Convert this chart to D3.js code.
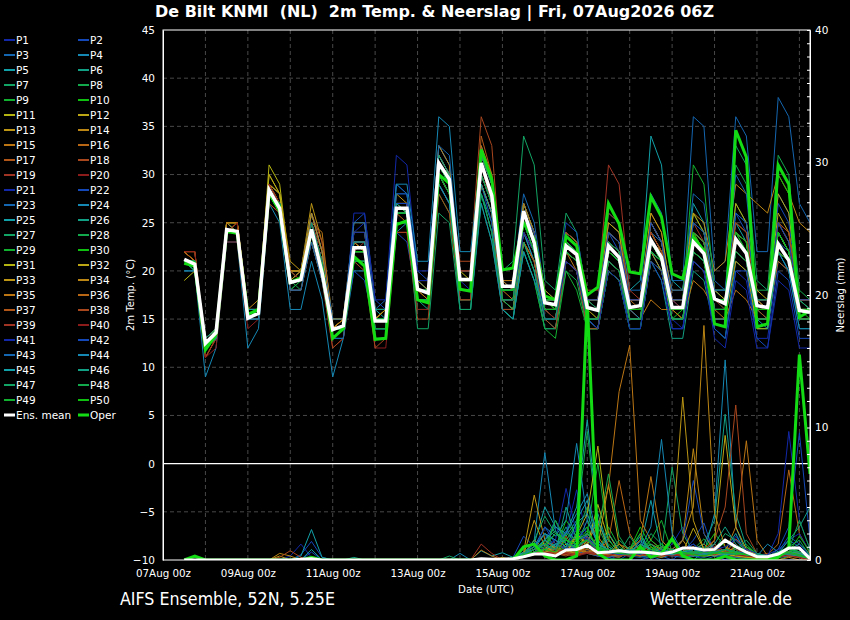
<!DOCTYPE html>
<html>
<head>
<meta charset="utf-8">
<script src="https://cdn.jsdelivr.net/npm/d3@7"></script>
<style>
  body { margin: 0; background: #000; }
  svg { display: block; }
  text { font-family: "DejaVu Sans", sans-serif; fill: #fff; }
  .cond { font-family: "DejaVu Sans Condensed", "DejaVu Sans", sans-serif; font-stretch: condensed; }
</style>
</head>
<body>
<div id="chart"></div>
<script>
// run 07Aug2026 06Z, first output 07Aug 12z, 6-hourly
const runStart = Date.UTC(2026, 7, 7, 0)
const leadHours = [12,18,24,30,36,42,48,54,60,66,72,78,84,90,96,102,108,114,120,126,132,138,144,150,156,162,168,174,180,186,192,198,204,210,216,222,228,234,240,246,252,258,264,270,276,282,288,294,300,306,312,318,324,330,336,342,348,354,360,366]

// ensemble mean and operational run, 2m temp (C)
const meanTemp = [21.2,20.7,12.5,13.6,24.3,24.1,15.1,15.6,28.4,26.5,18.8,19.1,24.3,19.8,13.9,14.3,22.4,22.4,14.8,14.8,26.5,26.5,18.1,17.7,31.2,29.5,19.1,19.1,31.2,27.8,18.4,18.4,26.2,22.9,16.7,16.5,22.6,21.7,16.2,15.9,22.6,21.4,16.2,16.4,23.2,21.4,16.2,16.2,23.0,21.8,17.1,16.6,23.3,21.8,16.4,16.2,22.8,21.1,15.9,15.7]
const operTemp = [20.8,20.5,11.8,13.4,24.1,23.9,15.5,16.0,28.1,26.2,18.8,19.3,24.1,20.1,13.0,14.0,21.5,20.5,12.9,13.0,24.8,25.2,17.0,16.7,30.0,29.1,18.1,17.9,32.6,29.5,20.1,20.3,25.0,23.3,17.4,17.0,23.6,22.6,17.5,18.3,27.0,24.9,19.9,19.7,27.7,25.6,19.7,19.2,23.5,22.1,14.5,14.2,34.6,31.8,14.2,14.5,31.0,29.0,15.2,15.9]

// precipitation (mm / 6h)
const meanPrecip = [0,0,0,0,0,0,0,0,0,0,0,0.05,0.1,0,0,0,0,0,0,0,0,0,0,0,0,0,0,0,0.1,0.05,0.05,0.1,0.25,0.45,0.45,0.3,0.75,0.8,1.1,0.55,0.6,0.7,0.6,0.6,0.55,0.45,0.6,0.9,0.9,0.75,0.8,1.5,1.0,0.6,0.25,0.25,0.45,0.9,0.9,0.1]
const operPrecip = [0,0.3,0,0,0,0,0,0,0,0,0,0,0.2,0,0,0,0,0,0,0,0,0,0,0,0,0,0,0,0,0,0,0,1.0,1.2,0.3,0,0,0.3,19.6,0.5,0,0,0,1.0,0.2,0.5,1.6,0.3,0,0,0,0.3,0,0,0,0,0.2,1.0,15.5,6.5]

// members P1..P50, 2m temp
const tempMembers = [
  [21,20,12,13,24,24,15,15,28,27,19,19,25,21,14,14,24,25,16,16,28,28,19,18,32,30,19,18,30,27,17,17,24,22,16,15,21,20,15,14,20,19,15,15,22,20,15,14,21,20,14,13,20,19,13,13,21,20,14,14],
  [21,21,13,14,25,24,16,16,29,27,20,20,26,22,15,15,25,26,17,16,29,28,20,19,33,31,20,20,32,29,19,18,27,24,17,17,24,23,17,16,24,22,17,17,25,23,17,16,24,23,16,16,26,24,15,15,27,25,17,16],
  [21,20,12,13,24,24,15,16,29,28,19,20,26,22,14,15,24,24,16,17,29,28,19,19,33,31,20,20,33,29,19,19,28,25,18,17,24,23,17,17,26,25,18,18,28,26,19,19,36,35,20,21,36,34,22,22,38,36,27,25],
  [20,20,9,12,23,23,12,14,27,25,16,16,21,17,9,13,20,20,13,13,24,25,16,16,29,27,17,17,28,24,16,16,23,20,14,14,21,20,14,14,21,20,15,15,22,20,15,15,22,21,16,16,22,21,16,15,22,20,15,15],
  [21,21,12,14,24,24,16,16,28,27,20,19,24,20,14,14,23,22,16,15,27,26,19,18,32,30,19,19,31,28,18,18,27,24,17,17,24,23,17,16,25,24,18,19,34,31,19,18,27,25,18,17,25,23,17,16,24,22,16,16],
  [21,21,13,14,24,24,15,16,28,26,18,19,23,19,13,14,21,21,14,14,25,25,17,16,29,27,17,17,28,25,16,15,23,20,15,14,21,20,14,14,20,19,14,14,21,19,13,13,20,19,14,13,21,20,14,14,22,21,15,15],
  [21,21,12,14,25,24,15,16,28,27,19,19,24,20,14,15,22,22,15,15,26,26,18,18,31,29,19,19,32,29,20,21,34,31,19,18,26,24,17,17,24,23,16,16,24,22,16,16,23,22,16,16,22,21,15,15,22,21,15,15],
  [21,20,12,13,24,24,15,15,28,27,19,18,24,20,14,14,22,22,15,15,27,26,18,18,31,29,18,18,30,27,18,18,25,23,16,16,22,21,16,16,22,21,16,16,24,22,17,17,26,24,17,17,27,25,18,18,32,30,18,17],
  [21,21,12,13,24,24,15,15,28,26,18,19,23,19,13,14,21,21,14,14,25,25,16,16,28,26,17,17,27,23,16,15,22,19,14,13,20,18,14,14,20,19,15,15,23,21,16,16,24,23,17,16,24,23,16,16,24,22,16,16],
  [21,21,12,13,24,24,15,16,28,26,19,19,24,20,13,14,22,22,15,15,26,26,18,18,31,30,19,19,31,28,18,18,26,23,17,16,22,21,16,15,20,19,15,15,21,20,15,16,22,21,17,17,24,22,16,16,22,21,16,15],
  [19,20,11,13,25,25,15,16,31,29,20,20,25,21,15,15,24,24,16,16,27,27,19,19,32,30,20,19,29,26,17,16,23,21,15,15,21,20,15,14,21,20,15,15,22,21,16,15,22,21,15,15,22,21,14,14,22,21,15,15],
  [22,21,13,14,25,25,16,16,29,28,20,19,25,21,15,15,23,23,16,16,27,27,19,19,31,29,20,20,31,28,19,19,27,24,18,17,24,23,17,17,23,22,17,17,25,23,17,17,24,23,18,18,25,24,17,17,26,24,17,16],
  [22,21,12,13,24,24,16,16,29,28,21,20,27,23,15,15,25,25,16,16,28,27,19,18,30,29,19,19,31,27,17,17,24,22,16,16,22,21,16,16,22,21,16,16,22,20,15,15,21,20,15,15,21,20,15,15,22,21,15,15],
  [22,21,13,14,25,25,16,17,30,28,20,20,25,21,15,15,23,23,15,16,27,27,19,19,33,31,20,20,31,28,19,18,26,23,17,17,23,22,16,16,23,22,17,17,25,23,18,18,26,25,20,21,29,28,27,26,30,28,25,24],
  [22,22,12,13,24,24,15,16,28,27,19,19,25,24,14,14,23,23,15,15,26,26,18,18,31,29,19,19,30,27,18,17,25,23,17,16,22,20,16,15,20,19,16,15,17,16,16,15,19,18,16,15,18,17,15,15,21,20,15,15],
  [22,21,12,13,24,25,15,16,29,27,19,19,26,22,14,15,23,22,15,15,26,26,18,18,31,29,19,19,32,29,18,18,27,24,17,17,24,23,17,16,23,22,17,16,23,22,16,16,24,22,17,17,24,23,17,16,25,23,16,16],
  [21,21,12,13,24,24,15,15,28,27,19,19,26,22,14,14,22,22,15,15,26,26,18,17,30,28,19,19,34,30,18,18,25,23,16,16,22,21,16,16,24,23,16,16,23,21,16,16,23,22,17,17,23,22,16,16,24,22,16,16],
  [22,21,11,13,24,24,15,15,28,27,19,20,26,23,14,15,23,22,15,15,27,27,19,19,32,30,21,21,36,33,19,19,26,23,16,16,23,22,16,16,25,24,16,16,23,21,16,16,23,22,17,17,23,22,16,16,24,22,16,16],
  [22,22,11,13,24,24,15,16,28,27,19,19,25,22,14,15,23,23,15,16,27,27,18,18,31,29,19,19,31,28,18,18,26,23,17,17,24,23,18,18,31,29,18,17,26,24,17,17,25,23,17,17,24,23,16,16,24,22,16,16],
  [21,21,11,12,23,23,14,15,27,26,18,18,23,19,12,13,21,21,12,12,24,24,16,16,29,27,17,17,29,26,16,16,24,21,15,15,22,21,15,15,22,21,16,15,24,22,16,16,24,23,17,16,23,22,16,16,23,21,16,16],
  [21,21,13,14,24,24,16,16,28,27,19,19,25,21,14,14,26,26,17,17,32,31,20,20,32,30,20,20,31,28,19,19,26,23,17,17,23,22,16,16,22,21,16,16,23,21,15,15,23,22,16,16,22,21,15,15,22,20,15,15],
  [21,21,12,14,24,24,15,16,28,26,19,19,24,20,14,14,20,19,14,14,24,23,17,17,29,27,18,18,29,25,17,17,24,21,15,15,21,20,15,14,21,20,14,14,21,19,14,14,21,20,14,13,20,20,13,12,20,19,13,13],
  [21,21,12,14,24,24,15,16,28,27,20,20,26,22,15,15,25,25,16,16,28,28,19,19,33,32,20,20,31,28,18,18,26,24,17,17,24,23,16,16,23,22,17,17,24,23,18,18,28,27,19,18,30,28,17,17,28,26,17,17],
  [21,21,12,13,24,24,15,16,28,27,19,19,24,20,14,14,23,23,16,16,29,29,21,21,36,35,22,22,32,29,17,17,24,22,16,16,22,21,15,15,22,21,16,15,22,21,16,16,22,21,16,16,22,21,15,15,23,21,15,15],
  [21,21,12,14,24,24,15,15,28,26,18,18,23,19,13,13,21,21,14,14,25,25,17,17,30,28,18,18,29,26,16,16,24,21,15,15,22,21,15,14,22,21,15,15,23,21,15,15,24,23,16,16,24,23,15,15,23,21,15,15],
  [21,21,13,14,25,24,15,16,28,27,19,19,24,20,14,14,22,22,15,15,27,26,18,18,32,30,19,19,32,29,19,19,27,24,17,17,23,22,17,17,24,23,17,17,25,23,17,17,25,24,18,18,26,25,17,17,25,23,17,16],
  [21,20,12,13,24,24,15,15,28,27,19,19,24,20,14,14,22,22,15,15,26,26,18,18,31,29,19,19,31,28,18,18,26,24,17,17,24,23,17,16,23,22,16,16,23,21,16,16,23,22,17,17,33,31,19,18,24,22,17,16],
  [21,21,12,14,24,24,15,16,28,26,19,19,24,20,13,14,22,22,15,15,26,26,17,17,30,28,16,16,28,24,16,15,22,19,14,14,20,19,14,14,20,19,14,14,21,20,15,15,22,21,16,16,23,22,16,16,24,22,16,16],
  [21,21,13,14,24,24,15,16,28,27,19,19,24,20,14,14,23,23,15,15,27,26,18,18,31,30,19,19,31,28,18,18,26,23,17,16,23,22,16,16,23,22,16,16,24,22,17,17,31,29,18,18,24,22,16,16,23,21,16,16],
  [21,21,12,13,24,24,15,16,28,27,19,19,24,20,14,14,22,22,15,15,26,26,18,18,31,29,19,19,31,28,18,18,26,23,17,16,22,21,16,16,22,21,16,16,22,21,16,16,22,21,16,16,22,21,16,16,30,28,16,16],
  [21,21,12,14,25,25,16,16,30,28,20,20,25,21,14,15,23,23,16,16,27,26,18,18,30,28,18,18,29,26,17,16,23,21,16,15,22,21,15,15,22,21,15,15,21,20,15,15,22,21,16,16,23,22,15,15,22,21,15,15],
  [21,21,12,14,24,24,15,16,28,27,19,20,25,21,14,15,23,23,15,16,26,26,18,18,30,29,19,19,30,27,18,18,25,23,17,17,24,23,17,17,25,24,17,17,26,24,17,17,26,24,18,17,27,25,18,17,28,26,17,17],
  [22,21,12,13,24,25,16,16,29,27,20,20,26,22,14,15,23,22,15,16,27,27,18,18,31,29,19,19,31,28,18,18,26,23,16,16,22,21,15,15,22,21,16,16,23,22,16,16,24,23,17,17,24,23,16,16,24,22,16,16],
  [21,21,13,14,25,24,15,16,28,27,19,19,25,21,14,14,22,22,15,15,26,26,18,17,30,28,18,18,30,27,17,17,25,22,16,16,23,22,16,16,23,22,16,16,24,22,16,16,23,22,16,16,23,22,15,15,23,21,15,15],
  [22,22,12,14,25,25,16,16,29,27,20,20,25,21,14,15,23,22,15,15,26,26,18,18,32,30,20,20,33,30,19,19,27,24,17,17,23,22,16,16,23,22,16,16,24,22,16,16,23,22,17,17,23,22,17,16,24,22,16,16],
  [21,21,12,13,24,24,15,15,28,27,19,19,24,20,14,14,22,22,15,15,26,25,17,17,30,28,18,18,31,28,18,18,26,24,17,17,23,22,16,16,22,21,16,16,22,21,16,16,23,22,17,17,24,23,17,17,25,24,17,17],
  [22,21,12,13,24,24,15,16,28,27,19,19,25,21,14,14,22,22,15,15,26,26,18,18,31,29,19,19,32,29,18,18,25,23,16,16,22,21,16,16,24,23,17,17,25,23,17,17,24,23,16,16,22,21,16,15,22,21,15,15],
  [21,21,12,13,24,24,15,15,27,26,18,18,23,19,12,13,21,20,12,13,24,24,15,15,28,26,17,17,29,26,16,16,23,21,15,14,21,20,14,14,21,20,15,15,23,21,16,16,24,22,16,16,24,23,17,17,25,24,17,17],
  [21,21,12,13,24,24,15,16,28,27,19,19,25,21,14,14,22,23,15,15,26,26,18,18,30,28,19,19,31,28,18,18,26,23,17,17,24,23,17,17,26,25,17,17,24,22,17,16,24,23,17,17,25,24,16,16,24,22,16,16],
  [22,22,12,13,24,25,15,16,29,27,20,19,25,21,14,14,23,23,15,15,25,25,17,17,30,29,20,20,31,27,17,17,24,22,16,15,22,21,15,15,23,22,16,16,23,21,15,15,22,21,16,16,22,21,16,16,25,23,16,16],
  [21,21,12,14,24,24,15,16,28,27,19,19,24,20,14,14,24,24,16,16,27,27,19,19,31,29,19,19,30,27,17,17,24,22,15,15,21,20,15,14,20,19,14,14,21,20,14,14,21,20,13,12,19,18,12,12,19,18,12,12],
  [21,21,12,14,24,24,15,16,28,27,19,19,25,21,14,14,23,23,15,15,27,27,18,18,31,29,19,19,31,28,18,18,26,24,17,17,25,24,17,17,24,23,17,17,25,23,17,17,25,24,18,18,26,25,17,17,25,23,17,17],
  [21,21,12,13,24,24,15,15,28,26,18,18,23,19,13,13,21,21,14,14,25,25,17,17,30,28,18,18,30,27,17,17,25,22,16,16,22,21,15,15,21,20,15,15,22,21,15,15,22,21,15,15,22,21,15,15,23,22,15,15],
  [20,20,12,13,24,24,15,15,28,27,19,19,24,20,14,14,22,22,15,15,26,26,18,18,31,29,16,16,27,23,16,15,22,19,16,16,23,22,16,16,22,21,16,16,23,21,16,16,23,22,16,16,23,22,16,16,23,21,16,16],
  [21,21,12,14,24,24,16,16,28,27,19,19,24,20,14,14,22,22,15,15,26,26,17,17,29,27,18,18,29,26,18,18,26,23,16,16,23,22,15,15,22,21,15,15,22,21,15,15,22,21,16,16,23,22,15,14,22,20,14,14],
  [21,21,13,14,24,24,15,16,28,27,19,19,24,20,14,14,23,23,16,16,27,26,18,18,32,30,19,19,32,29,18,18,26,23,17,17,23,22,16,16,23,22,16,16,23,21,16,16,23,22,17,17,23,22,16,16,24,22,16,16],
  [21,21,12,13,24,24,15,16,28,27,19,19,25,21,14,14,22,22,15,15,26,26,14,14,26,25,16,16,28,24,17,16,23,20,15,15,22,21,16,16,23,22,16,16,23,21,16,16,23,22,17,17,24,23,16,16,24,22,16,16],
  [21,21,12,14,24,24,15,16,28,26,19,19,24,20,14,14,22,22,15,15,25,25,18,18,30,28,19,19,31,28,18,18,25,22,16,16,22,21,16,16,22,21,16,16,22,21,16,16,24,23,17,17,31,29,17,17,24,22,16,16],
  [21,21,12,14,24,24,15,16,28,27,19,19,24,20,14,14,21,21,14,14,25,25,17,17,30,28,18,18,30,27,17,17,25,22,16,16,22,21,15,15,21,20,15,15,22,21,15,15,22,21,16,16,22,21,15,15,22,21,15,15],
  [21,21,12,14,24,24,15,16,28,27,19,19,24,20,14,14,22,22,15,15,26,26,18,18,31,29,19,19,31,28,18,18,26,23,17,17,23,22,16,16,22,21,16,16,23,21,16,16,24,22,17,17,24,23,16,16,24,22,16,16]
]

// members P1..P50, precipitation
const precipMembers = [
  [0,0,0,0,0,0,0,0,0,0,0.3,1.2,0.2,0,0,0,0,0,0,0,0,0,0,0,0, 0,0,0,0,0,0,0,0.3,0.5,0.8,1.2,2,5.3,1.5,0.5,0,0.4,1,0.3,0,0.6,1.2,2.5,0.4,0,0,0.5,1.8,0.6,0,0,0.3,1,0.5,0],
  [0,0,0,0,0,0,0,0,0,0,0,0.4,1.4,0.2,0,0,0,0,0,0,0,0,0,0,0, 0,0,0,0,0,0,0.2,1.8,1,0.6,3,1.2,0.5,0.8,0.3,0.2,0,0.5,1.4,0.8,0.3,0,0.6,1.5,2.8,0.4,0,0.6,0.3,0,0.2,0.8,1.5,1,0.3],
  [0,0,0,0,0,0,0,0,0,0,0,0,0,0,0,0,0,0,0,0,0,0,0,0,0, 0,0,0,0,0,0,0,0.5,0.8,2,1,0.6,1.5,2.5,0.4,0,0,0,0,0.3,0,0,0,0,0,0.3,0,0,0,0,0,0,0,0,0.3],
  [0,0,0,0,0,0,0,0,0,0,0,0,0,0,0,0,0,0,0,0,0,0,0,0,0, 0,0.5,0,0,0,0,0,0.4,1.5,8.1,2.2,0.8,1.2,3,1.5,0.4,0.2,0.6,1.8,0.5,0.2,0.4,0.8,1.2,0.5,3.5,15.1,2.5,0.5,0.2,0,0.4,0.8,0.5,0],
  [0,0,0,0,0,0,0,0,0,0,0,0.3,2.3,0.2,0,0,0,0,0,0,0,0,0,0,0, 0,0,0,0.7,0.3,0.55,0.2,0.6,1.2,4,2.5,1.8,3,4.5,0.8,1.6,0.5,0.3,1,4.5,0.8,0.5,0.4,0,0.6,0.3,0.8,2,0.4,0.5,0.3,0.2,0.6,0.3,0],
  [0,0,0,0,0,0,0,0,0,0,0,0,0,0,0,0,0.2,0,0,0,0,0,0,0,0, 0,0,0,0,0,0,0,0.2,0.6,1.5,1,2.5,0.8,1.2,3.5,1,0.5,0.8,2,0.6,0.3,1.5,0.5,0.8,1,0.5,0.3,1,0.6,0.3,0,0.2,0.8,1.2,0.5],
  [0,0,0,0,0,0,0,0,0,0,0,0,0,0,0,0,0,0,0,0,0,0,0,0,0, 0,0,0,0,0,0,0,0.3,0.8,1.2,2,1.6,2.2,0.8,0.6,0.3,0.5,1.8,0.6,0.3,0.5,7,2,0.6,0.3,0.4,0.6,0.8,0.3,0,0.2,0.4,0.6,0.8,0.2],
  [0,0,0,0,0,0,0,0,0,0,0,0,0,0,0,0,0,0,0,0,0,0,0,0,0, 0,0,0,0,0,0,0,0.5,1,2,0.8,1.5,2.8,9.7,2.5,0.8,0.4,0.5,0.3,0.2,0.6,1.5,0.6,0.3,0.5,0.6,1.4,0.8,0.3,0.3,0.1,0,0.3,0.5,0.2],
  [0,0.2,0,0,0,0,0,0,0,0,0,0,0,0,0,0,0,0,0,0,0,0,0,0,0, 0,0,0,0,0,0,0,0.2,0.5,1,3,1.2,0.6,1.8,0.5,2.5,1,0.4,0.8,1.5,3,0.6,0.2,0.8,1.6,0.5,0.3,0.8,1.2,0.4,0.2,0.3,0.5,0.2,0],
  [0,0,0,0,0,0,0,0,0,0,0,0,0,0,0,0,0,0,0,0,0,0,0,0,0, 0,0,0,0,0,0,0.2,0.8,0.4,1.5,0.8,3,1.8,2.5,0.6,1.2,0.5,0.6,2,0.5,0.3,0.8,0.4,0.5,0.8,2,1,0.4,0.2,0.3,0.2,0.5,1,0.6,0.2],
  [0,0,0,0,0,0,0,0,0,0,0,0,0,0,0,0,0,0,0,0,0,0,0,0,0, 0,0,0,0,0,0,0,0.3,0.6,0.5,1.2,0.8,2,1,4.2,1.5,0.6,0.4,0.3,1,0.5,0.8,0.5,0.3,0.6,0.3,0.5,1,0.4,0.2,0.1,0.3,0.5,0.4,0.1],
  [0,0,0,0,0,0,0,0,0,0,0,0,0,0,0,0,0,0,0,0,0,0,0,0,0, 0,0,0,0,0,0,0,0.3,1.5,0.8,0.6,1.2,0.8,2,1,5.7,1.2,0.5,0.8,0.3,0.6,0.4,0.6,2.4,0.8,0.5,0.7,0.4,0.2,0.1,0,0.3,0.4,0.3,0],
  [0,0,0,0,0,0,0,0,0,0.3,0,0,0,0,0,0,0,0,0,0,0,0,0,0,0, 0,0,0,0,0,0,0,0.6,4.9,1.5,0.8,0.5,2,1.2,3,0.8,0.4,0.6,0.5,1.2,0.8,0.5,1.5,0.4,0.3,0.8,0.5,0.6,1,0.3,0.2,0.4,0.6,0.5,0.2],
  [0,0,0,0,0,0,0,0,0,0.5,0.3,0,0,0,0,0,0,0,0,0,0,0,0,0,0, 0,0,0,0,0,0,0,0.2,0.5,0.8,1,0.6,0.5,0.8,1.8,0.6,0.3,1,0.5,0.3,0.2,0.5,1.5,8.4,2,0.6,0.3,0.2,0.1,0,0,0,0.2,0,0],
  [0,0,0,0,0,0,0,0,0,0,0,0,0,0,0,0,0,0,0,0,0,0,0,0,0, 0,0,0,0.75,0.3,0,0,0.3,0.8,0.6,1,0.5,0.3,1.5,2.5,5.5,12.7,16.2,3,1.5,0.8,0.6,0.5,0.8,1.2,0.5,0.4,0.3,0.8,0.3,0.2,0.5,0.4,0.3,0],
  [0,0,0,0,0,0,0,0,0,0,0,0,0,0,0,0,0,0,0,0,0,0,0,0,0, 0,0,0,0,0,0,0,0.4,1,1.2,0.5,0.8,0.6,1.2,0.8,1.4,6,2,0.6,0.4,1,0.8,0.5,0.3,0.6,1,0.5,0.4,0.3,0.2,0.4,1.2,6.8,2,0.5],
  [0,0,0,0,0,0,0,0,0,0,0,0,0,0,0,0,0,0,0,0,0,0,0,0,0, 0,0,0,0,0,0,0,0.3,0.5,0.6,0.4,1.8,0.6,0.5,0.3,0.8,0.5,0.4,1.2,0.6,0.3,0.5,0.8,0.4,0.3,0.6,0.4,1.6,0.8,0.5,0.3,0.6,0.4,0.3,0.1],
  [0,0,0,0,0,0,0,0,0,0.2,0.7,0.2,0,0,0,0,0,0,0,0,0,0,0,0,0, 0,0,0,0,0,0,0,0.4,0.6,0.8,0.5,0.3,0.6,1,0.5,0.3,0.2,0.6,0.4,0.8,0.5,0.3,0.6,1,0.4,0.5,0.3,0.2,0.4,0.3,0.5,0.2,0.3,0.2,0],
  [0,0,0,0,0,0,0,0,0,0,0,0,0,0,0,0,0,0,0,0,0,0,0,0,0, 0,0,0,1.2,0.5,0,0,0.4,0.8,0.6,1.5,0.5,0.4,1.8,0.6,0.4,0.3,0.5,0.8,0.6,0.3,0.4,0.5,0.3,0.6,1,0.6,0.3,0.2,0.4,0.3,0.2,0.5,0.3,0],
  [0,0,0,0,0,0,0,0,0,0,0,0,0,0,0,0,0,0,0,0,0,0,0,0,0, 0,0,0,0,0,0,0,0.3,0.6,0.8,0.5,1,0.6,0.8,0.5,0.6,0.4,0.3,0.6,0.4,0.8,0.5,0.3,0.6,0.5,0.6,0.4,1.2,0.6,0.3,0.2,0.5,0.3,0.2,0],
  [0,0,0,0,0,0,0,0,0,0,0,0,0,0,0,0,0,0,0,0,0,0,0,0,0, 0,0,0,0,0,0,0,0.5,1.2,2,1.5,5.4,2,1.5,0.8,0.6,0.5,0.6,0.4,0.3,0.5,0.8,0.6,0.5,0.3,0.5,0.3,0.6,0.8,0.3,0.2,0.5,1.5,2,0.6],
  [0,0,0,0,0,0,0,0,0,0,0,0,0.6,0,0,0,0,0,0,0,0,0,0,0,0, 0,0,0,0,0,0,0,0.4,0.8,1.5,3,1.2,0.8,1,0.6,0.5,0.8,0.5,0.8,1.2,0.6,0.8,1.5,6,2,0.8,0.5,0.6,1,0.4,0.3,0.6,1.8,1.2,0.3],
  [0,0,0,0,0,0,0,0,0,0,0,0,0,0,0,0,0,0,0,0,0,0,0,0,0, 0,0,0,0,0,0,0,0.3,0.4,0.6,0.8,0.5,0.6,0.5,0.3,0.2,0.4,0.3,0.2,0.4,0.6,0.3,0.2,0.3,0.2,0.4,0.3,0.2,0.1,0,0,0.2,0.3,0.4,0.2],
  [0,0,0,0,0,0,0,0,0,0,0,0,0,0,0,0,0,0,0,0,0,0,0,0,0, 0,0,0,0,0,0,0,0.6,1,2.5,1.8,3,8.8,3,1.2,0.8,0.4,0.5,0.8,0.6,0.4,0.3,0.6,0.8,0.5,1.2,0.6,0.4,0.3,0.2,0.2,0.3,0.6,0.5,0.2],
  [0,0,0,0,0,0,0,0,0,0,0,0,0.8,0,0,0,0,0,0,0,0,0,0,0,0, 0,0,0,0,0,0,0,0.5,0.8,1.5,2.5,2,4,10.6,3,1,0.5,0.8,0.6,0.4,0.5,0.6,0.4,0.3,0.6,0.5,0.8,0.6,0.4,0.3,0.3,0.4,0.6,0.5,0.2],
  [0,0,0,0,0,0,0,0,0,0,0,0,0,0,0,0,0,0,0,0,0,0,0,0,0, 0,0,0,0,0,0,0,0.4,0.8,1.2,0.6,4,1.5,2,1,0.6,0.8,0.5,1.5,0.8,0.4,0.6,0.5,0.8,1.2,3,11,3.5,1,0.4,0.3,0.5,0.8,0.6,0.2],
  [0,0,0,0,0,0,0,0,0,0,0,0,0,0,0,0,0,0,0,0,0,0,0,0,0, 0.3,0,0,0,0,0,0,0.5,1.5,3.3,2,1.2,1,1.5,0.8,0.6,0.4,1,0.6,2,1.2,0.5,0.8,0.6,0.4,0.8,2,1.5,0.6,0.3,0.2,0.4,0.8,0.6,0.3],
  [0,0,0,0,0,0,0,0,0,0,0,0,0,0,0,0,0,0,0,0,0,0,0,0,0, 0,0,0,0,0,0,0,0.3,0.6,0.8,1.2,0.8,2,4,2,6.5,1.8,0.6,0.8,1.2,0.5,0.8,0.6,0.4,0.8,0.6,0.5,0.8,0.4,0.3,0.2,0.5,0.6,0.4,0.1],
  [0,0,0,0,0,0,0,0,0,0,0,0,0,0,0,0,0,0,0,0,0,0,0,0,0, 0,0,0,0,0,0,0,0.4,0.5,0.6,3,1.5,1.2,2,7.3,1.5,0.6,0.8,0.5,1.5,0.8,0.6,0.4,0.5,0.6,0.8,0.6,0.4,0.5,0.4,0.2,0.6,0.8,0.5,0.2],
  [0,0,0,0,0,0,0,0,0,0,0,0,0,0,0,0,0,0,0,0,0,0,0,0,0, 0,0,0,0,0,0,0,0.3,0.6,0.8,0.6,1,1.5,2.2,1,0.6,0.5,0.8,2.5,1,0.5,0.6,0.5,0.4,0.3,0.5,0.4,0.6,1,0.5,0.3,0.4,0.6,1.8,0.6],
  [0,0,0,0,0,0,0,0,0,0,0,0,0,0,0,0,0,0,0,0,0,0,0,0,0, 0,0,0,0,0,0,0,0.2,0.4,0.8,0.6,0.5,1.8,3.5,8.6,2,0.6,0.5,0.4,0.6,0.8,0.5,0.4,0.6,0.3,0.4,0.5,0.3,0.2,0.2,0.1,0.3,0.4,0.2,0],
  [0,0,0,0,0,0,0,0,0,0,0,0,0,0,0,0,0,0,0,0,0,0,0,0,0, 0,0,0,0,0,0,0,0.3,0.5,0.6,0.8,0.5,0.6,1,0.6,0.8,0.5,0.4,0.5,0.8,0.6,0.5,0.6,0.8,0.5,1.5,9.4,2.5,0.8,0.4,0.3,0.5,0.6,0.4,0.1],
  [0,0,0,0,0,0,0,0,0,0,0,0,0,0,0,0,0,0,0,0,0,0,0,0,0, 0,0,0,0,0,0.2,0,0.4,3,1,0.6,0.5,0.8,0.6,0.4,0.5,0.6,0.5,0.8,0.6,0.5,1.5,12.3,3,0.8,0.6,0.4,0.5,0.3,0.3,0.2,0.4,0.5,0.3,0],
  [0,0,0,0,0,0,0,0,0,0,0,0,0,0,0,0,0,0,0,0,0,0,0,0,0, 0,0,0,0,0,0,0,0.3,0.6,0.5,0.4,0.6,0.8,0.5,0.4,0.3,0.6,0.5,0.3,0.6,0.4,0.8,1.5,4,17.7,3.5,1,0.6,0.4,0.3,0.2,0.4,0.5,0.3,0],
  [0,0,0,0,0,0,0,0,0,0,0,0,0,0,0,0,0,0,0,0,0,0,0,0,0, 0,0,0,0,0,0,0,0.3,0.5,0.8,0.6,0.5,0.4,0.6,0.8,0.5,1.2,0.8,1.5,6.3,1.5,0.6,0.5,0.4,0.6,0.8,0.6,2.5,9,1.5,0.3,0.2,0.4,0.3,0],
  [0,0,0,0,0,0,0,0,0,0,0,0,0,0,0,0,0,0,0,0,0,0,0,0,0, 0,0,0,0,0,0,0,0.3,0.5,0.6,0.5,0.4,0.6,0.8,0.5,0.4,0.3,0.5,0.4,0.3,0.5,0.4,0.3,0.5,0.4,0.6,0.5,0.4,0.3,0.2,0.3,0.4,0.3,0.2,0],
  [0,0,0,0,0,0,0,0,0,0,0,0,0,0,0,0,0,0,0,0,0,0,0,0,0, 0,0,0,0,0,0,0,0.4,0.6,0.8,0.5,0.6,0.4,1,0.6,0.5,0.8,0.5,0.6,0.4,0.3,0.5,0.4,0.6,0.8,1.2,0.6,0.5,0.4,0.3,0.2,0.4,0.6,0.5,0.2],
  [0,0,0,0,0,0,0,0,0,0,0,0,0,0,0,0,0,0,0,0,0,0,0,0,0, 0,0,0,0,0,0,0,0.2,0.4,0.5,0.6,0.4,0.3,0.6,0.4,0.3,0.5,0.4,0.3,0.6,0.5,0.4,0.5,0.6,0.8,1.5,4,11.7,2,0.5,0.3,0.4,0.3,0.2,0],
  [0,0,0,0,0,0,0,0,0,0,0,0,0,0,0,0,0,0,0,0,0,0,0,0,0, 0,0,0,0,0,0,0,0.3,0.6,0.4,0.8,0.6,0.4,0.6,0.5,0.8,0.4,0.3,0.5,0.6,0.4,0.5,0.3,0.4,0.6,0.4,0.6,0.8,0.5,0.4,0.3,0.5,0.4,0.3,0.1],
  [0,0,0,0,0,0,0,0,0,0,0,0,0,0,0,0,0,0,0,0,0,0,0,0,0, 0,0,0,0,0,0,0,0.2,0.5,0.6,0.4,0.5,0.3,0.5,0.4,0.3,0.6,0.4,0.5,0.3,0.4,0.3,0.4,0.5,0.3,0.6,0.5,0.4,0.3,0.2,0.3,0.2,0.4,0.2,0],
  [0,0,0,0,0,0,0,0,0,0,0,0,0,0,0,0,0,0,0,0,0,0,0,0,0, 0,0,0,0,0,0,0,0.3,0.5,1,1.5,0.8,2.5,1.5,0.6,0.8,0.5,0.6,0.4,0.8,0.5,0.6,0.8,1.2,0.6,0.8,1,1.5,0.8,0.5,0.3,2,9.7,3,0.8],
  [0,0,0,0,0,0,0,0,0,0,0,0,0,0,0,0,0,0,0,0,0,0,0,0,0, 0,0,0,0,0,0,0,0.4,0.8,2.5,1.2,0.8,1,1.6,0.8,0.6,0.4,0.5,0.6,0.4,0.8,0.6,0.5,0.8,0.5,0.6,0.4,0.5,0.6,0.3,0.4,0.8,2.5,9.6,1.5],
  [0,0,0,0,0,0,0,0,0,0,0,0,0,0,0,0,0,0,0,0,0,0,0,0,0, 0,0,0,0,0,0,0,0.3,0.6,1.2,0.8,2.2,1.5,1.8,0.8,0.5,0.6,0.8,0.5,0.6,0.4,0.5,0.6,0.5,0.4,0.5,0.8,0.6,0.4,0.3,0.2,0.3,0.5,0.4,0.2],
  [0,0,0,0,0,0,0,0,0,0,0,0,0,0,0,0,0,0,0,0,0,0,0,0,0, 0,0,0,0,0,0,0,0.4,0.8,1.5,1,2,3.5,5,1.5,0.6,0.5,0.6,0.8,2.5,9.1,2,0.6,0.5,0.4,0.6,0.8,0.6,0.4,0.3,1.2,0.6,0.4,0.3,0.1],
  [0,0,0,0,0,0,0,0,0,0,0,0,0,0,0,0,0,0,0,0,0,0,0,0,0, 0,0,0,0,0,0,0,0.5,1,2,1.5,1,2.8,3.5,1.2,0.8,0.5,0.6,1.2,0.8,0.5,0.4,0.6,0.8,0.5,0.6,0.4,0.5,0.4,0.3,0.2,0.4,0.6,0.5,0.2],
  [0,0,0,0,0,0,0,0,0,0,0,0,0,0,0,0,0,0,0,0,0,0,0,0,0, 0,0,0,0,0,0,0,0.4,0.6,0.8,1.2,1.5,0.8,1.2,0.6,2,0.8,0.6,0.5,0.8,0.6,0.8,0.6,0.5,0.8,1.2,2.5,1.2,0.5,0.4,0.3,0.5,1.5,2.5,4],
  [0,0,0,0,0,0,0,0,0,0,0,0,0,0,0,0,0,0,0,0,0,0,0,0,0, 0,0,0,0,0,0,0,0.3,0.8,1.5,2.2,1.2,1,1.5,0.8,0.6,1.5,0.8,0.6,1.2,0.5,0.5,0.8,0.6,0.4,0.6,0.5,0.8,1.5,0.5,0.3,0.6,1,1.5,0.3],
  [0,0,0,0,0,0,0,0,0,0,0,0,0,0,0,0,0,0,0,0,0,0,0,0,0, 0,0,0,0,0,0,0,0.5,1,1.2,0.8,2,1.5,2,1,0.8,0.6,0.5,0.8,0.6,1,0.8,0.5,0.6,0.8,0.6,0.5,0.4,0.6,0.3,0.2,0.5,0.8,3,0.8],
  [0,0,0,0,0,0,0,0,0,0,0,0,0,0,0,0,0,0,0,0,0,0,0,0,0, 0,0,0,0,0,0,0,0.3,0.8,1,2,1.5,0.8,1.2,0.6,0.8,0.5,0.4,0.6,0.8,0.5,0.6,0.4,0.5,0.6,0.5,0.8,0.6,0.4,0.3,0.2,0.3,0.5,0.3,0.1],
  [0,0,0,0,0,0,0,0,0,0,0,0,0,0,0,0,0,0,0,0,0,0,0,0,0, 0,0,0,0,0,0,0,0.4,0.6,0.8,0.6,1.5,1.2,1.5,0.8,0.6,0.5,0.6,0.5,0.8,1.2,0.5,0.6,0.4,0.3,0.5,0.6,0.5,0.4,0.3,0.2,0.4,0.6,0.4,0.1]
]

const memberNames = d3.range(1, 51).map((n) => 'P' + n)
// 20-colour cycle, blue -> green -> yellow -> red
const palette = ['#1228a8', '#1448b8', '#1466b0', '#1588b4', '#12a0a8', '#12a084', '#12a464', '#12a84c', '#12b030', '#10c010',
  '#b4b412', '#bca614', '#bc9614', '#bc8614', '#bc7614', '#b86614', '#b05618', '#a8461e', '#a03424', '#8c1c1c']
const operColor = '#14dc14'

const W = 850
const H = 620
const plotL = 163
const plotR = 810
const plotT = 30
const plotB = 560

const svg = d3.select('#chart').append('svg')
  .attr('width', W)
  .attr('height', H)
  .style('background', '#000')

const hour = 3600e3
const x = d3.scaleUtc().domain([runStart, runStart + 366 * hour]).range([plotL, plotR])
const yT = d3.scaleLinear().domain([-10, 45]).range([plotB, plotT])
const yP = d3.scaleLinear().domain([0, 40]).range([plotB, plotT])
const tx = (d, i) => x(runStart + leadHours[i] * hour)

// grid
let grid = svg.append('g')
  .attr('stroke', '#484848')
  .attr('stroke-dasharray', '4,3')
grid.selectAll('.hg')
  .data(yT.ticks(11).filter((v) => v !== 0 && v > -10 && v < 45))
  .enter().append('line')
  .attr('x1', plotL).attr('x2', plotR)
  .attr('y1', (d) => yT(d)).attr('y2', (d) => yT(d))
grid.selectAll('.vg')
  .data(x.ticks(d3.utcDay).filter((d) => +d > runStart))
  .enter().append('line')
  .attr('x1', (d) => x(d)).attr('x2', (d) => x(d))
  .attr('y1', plotT).attr('y2', plotB)

svg.append('line')
  .attr('x1', plotL).attr('x2', plotR)
  .attr('y1', yT(0)).attr('y2', yT(0))
  .attr('stroke', '#fff')
  .attr('stroke-width', 1.2)

svg.append('clipPath').attr('id', 'plot')
  .append('rect')
  .attr('x', plotL).attr('y', plotT)
  .attr('width', plotR - plotL).attr('height', plotB - plotT)

const lineT = d3.line().x(tx).y((d) => yT(d))
const lineP = d3.line().x(tx).y((d) => yP(d))

let g = svg.append('g').attr('clip-path', 'url(#plot)')

// members
g.selectAll('.pm')
  .data(precipMembers)
  .enter().append('path')
  .attr('d', lineP)
  .attr('fill', 'none')
  .attr('stroke', (d, i) => palette[i % 20])
  .attr('stroke-width', 1)
g.selectAll('.tm')
  .data(tempMembers)
  .enter().append('path')
  .attr('d', lineT)
  .attr('fill', 'none')
  .attr('stroke', (d, i) => palette[i % 20])
  .attr('stroke-width', 1)

// oper + mean on top
g.append('path').attr('d', lineP(operPrecip))
  .attr('fill', 'none').attr('stroke', operColor).attr('stroke-width', 3)
g.append('path').attr('d', lineT(operTemp))
  .attr('fill', 'none').attr('stroke', operColor).attr('stroke-width', 3)
g.append('path').attr('d', lineP(meanPrecip))
  .attr('fill', 'none').attr('stroke', '#fff').attr('stroke-width', 3)
g.append('path').attr('d', lineT(meanTemp))
  .attr('fill', 'none').attr('stroke', '#fff').attr('stroke-width', 3.5)

// frame
svg.append('rect')
  .attr('x', plotL).attr('y', plotT)
  .attr('width', plotR - plotL).attr('height', plotB - plotT)
  .attr('fill', 'none').attr('stroke', '#fff')

// left axis
svg.append('g')
  .attr('transform', `translate(${plotL},0)`)
  .call(d3.axisLeft(yT).tickValues(yT.ticks(11)).tickSize(0).tickPadding(8))
  .call((a) => a.select('.domain').attr('stroke', '#fff'))
  .selectAll('text').attr('fill', '#fff').style('font-size', '10.5px')

// right axis: minor ticks every mm, labels every 10
svg.append('g')
  .attr('transform', `translate(${plotR},0)`)
  .call(d3.axisLeft(yP).ticks(40).tickSize(3).tickFormat(''))
  .call((a) => a.selectAll('line, .domain').attr('stroke', '#fff'))
svg.append('g')
  .attr('transform', `translate(${plotR},0)`)
  .call(d3.axisRight(yP).tickValues([0, 10, 20, 30, 40]).tickSize(0).tickPadding(5))
  .call((a) => a.select('.domain').remove())
  .selectAll('text').attr('fill', '#fff').style('font-size', '10.5px')

// bottom axis
svg.append('g')
  .attr('transform', `translate(0,${plotB})`)
  .call(d3.axisBottom(x).ticks(d3.utcDay.every(2)).tickSize(0).tickPadding(9)
    .tickFormat(d3.utcFormat('%d%b %Hz')))
  .call((a) => a.select('.domain').remove())
  .selectAll('text')
  .attr('class', 'cond')
  .attr('fill', '#fff')
  .attr('textLength', 55)
  .attr('lengthAdjust', 'spacingAndGlyphs')
  .style('font-size', '11px')

// axis titles
svg.append('text')
  .attr('transform', `translate(134,${(plotT + plotB) / 2}) rotate(-90)`)
  .attr('text-anchor', 'middle')
  .style('font-size', '10px')
  .text('2m Temp. (°C)')
svg.append('text')
  .attr('transform', `translate(844,${(plotT + plotB) / 2}) rotate(-90)`)
  .attr('text-anchor', 'middle')
  .style('font-size', '10px')
  .text('Neerslag (mm)')
svg.append('text')
  .attr('class', 'cond')
  .attr('x', 486).attr('y', 593)
  .attr('text-anchor', 'middle')
  .attr('textLength', 56).attr('lengthAdjust', 'spacingAndGlyphs')
  .style('font-size', '10.5px')
  .text('Date (UTC)')

// title and footer
svg.append('text')
  .attr('x', 155).attr('y', 17)
  .attr('xml:space', 'preserve')
  .style('white-space', 'pre')
  .attr('textLength', 559).attr('lengthAdjust', 'spacingAndGlyphs')
  .style('font-size', '15px')
  .style('font-weight', 'bold')
  .text('De Bilt KNMI  (NL)  2m Temp. & Neerslag | Fri, 07Aug2026 06Z')
svg.append('text')
  .attr('class', 'cond')
  .attr('x', 120).attr('y', 605)
  .attr('textLength', 215).attr('lengthAdjust', 'spacingAndGlyphs')
  .style('font-size', '17px')
  .text('AIFS Ensemble, 52N, 5.25E')
svg.append('text')
  .attr('class', 'cond')
  .attr('x', 650).attr('y', 605)
  .attr('textLength', 142).attr('lengthAdjust', 'spacingAndGlyphs')
  .style('font-size', '17px')
  .text('Wetterzentrale.de')

// legend, two columns
let legendItems = memberNames.map((n, i) => ({ name: n, color: palette[i % 20], w: 2 }))
legendItems.push({ name: 'Ens. mean', color: '#fff', w: 3 })
legendItems.push({ name: 'Oper', color: operColor, w: 3 })

let leg = svg.append('g').selectAll('g')
  .data(legendItems)
  .enter().append('g')
  .attr('transform', (d, i) => `translate(${i % 2 ? 78 : 4},${40 + Math.floor(i / 2) * 15})`)
leg.append('line')
  .attr('x1', 0).attr('x2', 11)
  .attr('stroke', (d) => d.color)
  .attr('stroke-width', (d) => d.w)
leg.append('text')
  .attr('x', 12).attr('y', 4)
  .style('font-size', '10.5px')
  .text((d) => d.name)
</script>
</body>
</html>
